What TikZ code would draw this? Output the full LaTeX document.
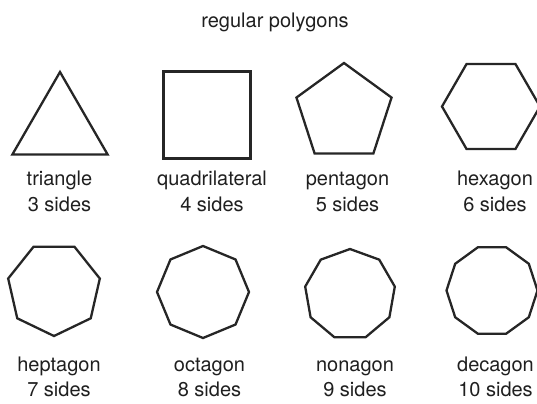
\documentclass[tikz,border=0pt]{standalone}
\usepackage{fontspec}
\setmainfont{TeX Gyre Heros}
\usetikzlibrary{shapes.geometric}
\definecolor{polyink}{HTML}{262626}
\definecolor{polytext}{HTML}{1F1F1F}

\tikzset{
  polygon/.style={regular polygon,draw=polyink,line width=1.15pt,inner sep=0pt,outer sep=0pt},
  polylabel/.style={font=\fontsize{10}{12}\selectfont,text=polytext,anchor=base,inner sep=0pt}
}

\begin{document}
\begin{tikzpicture}[x=0.5pt,y=-0.5pt]
    \useasboundingbox (0,0) rectangle (537,403);
    \clip (0,0) rectangle (537,403);
    % --- titulo ---
    \node[polylabel] (title) at (275,27) {regular polygons};
    % --- fila superior: 3 a 6 lados ---
    \foreach \nm/\s/\x/\y/\d/\r/\lx/\l in {tri/3/60/127/55/0/59.5/triangle,quad/4/207/115/61.5/0/212/quadrilateral,penta/5/344/113/50/0/347.5/pentagon,hexa/6/491/106.5/49/0/495/hexagon}{
      \node[polygon,regular polygon sides=\s,minimum size=\d pt,shape border rotate=\r] (\nm) at (\x,\y) {};
      \node[polylabel] (\nm-name) at (\lx,185.7) {\l};
      \node[polylabel] (\nm-sides) at (\lx,211) {\s{} sides};
    }
    % --- fila inferior: 7 a 10 lados ---
    \foreach \nm/\s/\x/\y/\d/\r/\lx/\l in {hepta/7/54/289/47/180/59/heptagon,octa/8/203/292/46/22.5/209.5/octagon,nona/9/350/294.5/45.5/0/355/nonagon,deca/10/492/290.5/45.5/0/495.5/decagon}{
      \node[polygon,regular polygon sides=\s,minimum size=\d pt,shape border rotate=\r] (\nm) at (\x,\y) {};
      \node[polylabel] (\nm-name) at (\lx,371) {\l};
      \node[polylabel] (\nm-sides) at (\lx,396) {\s{} sides};
    }
  \end{tikzpicture}
\end{document}
